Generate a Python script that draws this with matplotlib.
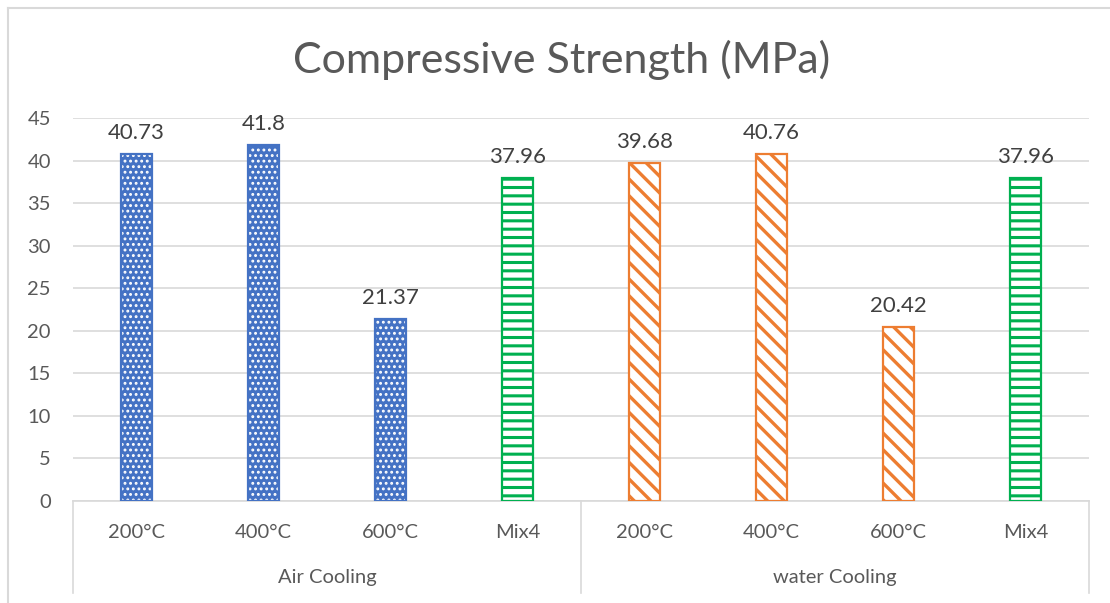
import matplotlib
matplotlib.use("Agg")
import matplotlib.pyplot as plt
from matplotlib.lines import Line2D
import numpy as np

# compressive strength per cooling regime
groups = ["Air Cooling", "water Cooling"]
categories = ["200°C", "400°C", "600°C", "Mix4"]
air_cooling = [40.73, 41.8, 21.37, 37.96]
water_cooling = [39.68, 40.76, 20.42, 37.96]
y_ticks = [0, 5, 10, 15, 20, 25, 30, 35, 40, 45]

BLUE = "#4472C4"
ORANGE = "#ED7D31"
GREEN = "#00B050"
GRID = "#D9D9D9"
TEXT = "#595959"

plt.rcParams['font.family'] = ['Lato', 'DejaVu Sans']

fig = plt.figure(figsize=(11.10, 6.03), dpi=100)
ax = fig.add_axes([73 / 1110, 1 - 501 / 603, (1089 - 73) / 1110, (501 - 118) / 603])

values = air_cooling + water_cooling
labels = categories + categories
x = np.arange(len(values))
width = 0.25


def styled_bar(xi, v, face, hatch, hatch_color, edge, hatch_lw):
    # hatch colour follows the edge colour, so draw fill+hatch first, then the outline
    with plt.rc_context({'hatch.linewidth': hatch_lw}):
        b = ax.bar(xi, v, width=width, color=face, edgecolor=hatch_color,
                   hatch=hatch, linewidth=0, zorder=3)
    ax.bar(xi, v, width=width, fill=False, edgecolor=edge, linewidth=1.6, zorder=4)
    return b


for i, v in enumerate(values):
    name = labels[i]
    if name == "Mix4":
        styled_bar(x[i], v, "white", "--", GREEN, GREEN, 2.2)
    elif i < 4:
        styled_bar(x[i], v, BLUE, "...", "white", BLUE, 1.3)
    else:
        styled_bar(x[i], v, "white", "\\\\", ORANGE, ORANGE, 2.4)
    ax.annotate(f"{v:g}", (x[i], v), xytext=(0, 8), textcoords="offset points",
                ha="center", va="bottom", fontsize=16, color="#404040")

ax.set_xlim(-0.5, len(values) - 0.5)
ax.set_ylim(0, 45)
ax.set_yticks(y_ticks)
ax.yaxis.grid(True, color=GRID, linewidth=1.2, zorder=0)
ax.set_axisbelow(True)
ax.tick_params(axis="y", length=0, pad=16, labelsize=14.5, labelcolor=TEXT)
ax.set_xticks([])
for side in ["left", "right", "top"]:
    ax.spines[side].set_visible(False)
ax.spines["bottom"].set_color(GRID)
ax.spines["bottom"].set_linewidth(1.2)

# two-level category axis
for i, name in enumerate(labels):
    ax.text(x[i], -0.083, name, transform=ax.get_xaxis_transform(),
            ha="center", va="center", fontsize=14.5, color=TEXT)
for g, name in enumerate(groups):
    ax.text(g * 4 + 1.5, -0.2, name, transform=ax.get_xaxis_transform(),
            ha="center", va="center", fontsize=14.5, color=TEXT)
for xs in [0.0, 0.5, 1.0]:
    ax.add_line(Line2D([xs, xs], [0, -0.24], transform=ax.transAxes,
                       color=GRID, linewidth=1.2, clip_on=False))

fig.text(562 / 1110, 1 - 60 / 603, "Compressive Strength (MPa)", ha="center",
         va="center", fontsize=31, color=TEXT)

# chart frame
fig.add_artist(Line2D([8 / 1110, 1], [1 - 8 / 603] * 2, transform=fig.transFigure,
                      color=GRID, linewidth=1.5))
fig.add_artist(Line2D([8 / 1110] * 2, [0, 1 - 8 / 603], transform=fig.transFigure,
                      color=GRID, linewidth=1.5))

fig.savefig("out.png", dpi=100, facecolor="white")
